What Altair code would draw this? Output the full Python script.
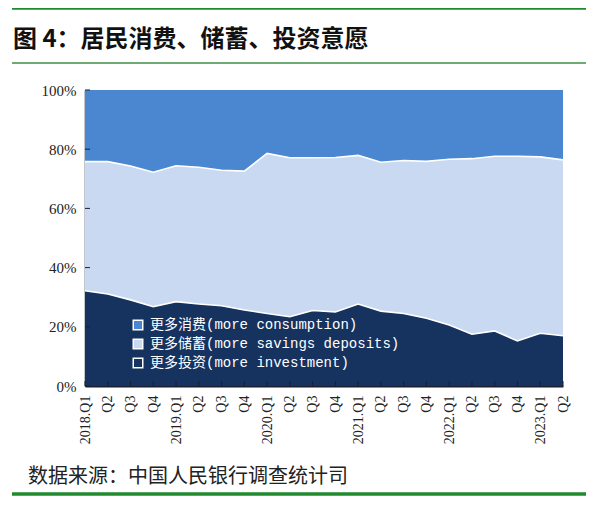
import altair as alt
import pandas as pd

# ---- data ----
quarters = ["2018Q1", "2018Q2", "2018Q3", "2018Q4",
            "2019Q1", "2019Q2", "2019Q3", "2019Q4",
            "2020Q1", "2020Q2", "2020Q3", "2020Q4",
            "2021Q1", "2021Q2", "2021Q3", "2021Q4",
            "2022Q1", "2022Q2", "2022Q3", "2022Q4",
            "2023Q1", "2023Q2"]

investment = [32.2, 31.1, 29.1, 26.8, 28.5, 27.7, 27.1, 25.7, 24.5, 23.4, 25.5,
              25.0, 27.7, 25.3, 24.5, 22.9, 20.6, 17.5, 18.6, 15.2, 17.8, 17.0]
savings = [43.6, 44.7, 45.2, 45.4, 45.9, 46.2, 45.8, 46.9, 54.1, 53.7, 51.6,
           52.2, 50.2, 50.3, 51.7, 53.0, 56.0, 59.3, 59.0, 62.4, 59.6, 59.4]
consumption = [24.2, 24.2, 25.7, 27.8, 25.6, 26.1, 27.1, 27.4, 21.4, 22.9, 22.9,
               22.8, 22.1, 24.4, 23.8, 24.1, 23.4, 23.2, 22.4, 22.4, 22.6, 23.6]

name_cons = "更多消费(more consumption)"
name_sav = "更多储蓄(more savings deposits)"
name_inv = "更多投资(more investment)"
legend_order = [name_cons, name_sav, name_inv]
colors = ["#4B86D0", "#C9D9F1", "#16325F"]

y_ticks = [0, 20, 40, 60, 80, 100]

title_text = "图 4：居民消费、储蓄、投资意愿"
source_text = "数据来源：中国人民银行调查统计司"

# ---- build long table ----
rows = []
for i, q in enumerate(quarters):
    rows.append({"q": q, "s": name_inv, "v": investment[i], "rank": 0})
    rows.append({"q": q, "s": name_sav, "v": savings[i], "rank": 1})
    rows.append({"q": q, "s": name_cons, "v": consumption[i], "rank": 2})
df = pd.DataFrame(rows)

W, H = 478, 296

x_enc = alt.X(
    "q:N", sort=quarters,
    scale=alt.Scale(type="point", padding=0),
    axis=alt.Axis(
        title=None, labelAngle=-90, ticks=False, labelPadding=9,
        labelFont="Liberation Serif", labelFontSize=14, labelColor="#222",
        domainColor="#1a1f33", domainWidth=2,
        labelExpr="indexof(datum.value, 'Q1') >= 0 ? replace(datum.value, 'Q', '.Q') : substring(datum.value, 4)",
    ),
)

y_scale = alt.Scale(domain=[0, 100], nice=False)
y_axis = alt.Axis(
    title=None, values=y_ticks, labelExpr="datum.value + '%'",
    tickSize=0, labelPadding=9, grid=False,
    labelFont="Liberation Serif", labelFontSize=15, labelColor="#222",
    domainColor="#1a1f33", domainWidth=1.5,
)

base = alt.Chart(df).transform_stack(
    stack="v", groupby=["q"], as_=["y0", "y1"],
    sort=[alt.SortField("rank", order="ascending")],
)

area = base.mark_area(opacity=1, interpolate="linear").encode(
    x=x_enc,
    y=alt.Y("y1:Q", scale=y_scale, axis=y_axis),
    y2="y0:Q",
    color=alt.Color(
        "s:N",
        scale=alt.Scale(domain=legend_order, range=colors),
        legend=alt.Legend(
            title=None, orient="none", legendX=46, legendY=228,
            symbolType="square", symbolSize=90, symbolStrokeColor="white",
            symbolStrokeWidth=1.5, symbolOpacity=1,
            labelFont="'Liberation Mono', 'Noto Sans CJK SC'",
            labelFontSize=14, labelColor="white", labelOffset=5,
            rowPadding=3, labelLimit=400,
        ),
    ),
)

lines = base.transform_filter("datum.rank < 2").mark_line(
    color="white", strokeWidth=1.6
).encode(
    x=alt.X("q:N", sort=quarters),
    y="y1:Q",
    detail="s:N",
)

xt = alt.Chart(pd.DataFrame({"q": quarters})).mark_rule(
    color="#1a1f33", strokeWidth=1
).encode(x=alt.X("q:N", sort=quarters), y=alt.value(H - 5), y2=alt.value(H))

yt = alt.Chart(pd.DataFrame({"y1": y_ticks})).mark_rule(
    color="#1a1f33", strokeWidth=1
).encode(y="y1:Q", x=alt.value(0), x2=alt.value(5))

# ---- decorations (report frame) ----
green = "#1F8A2E"
top_rule = alt.Chart(pd.DataFrame({"a": [0]})).mark_rule(color=green, strokeWidth=3.5).encode(
    x=alt.value(-73), x2=alt.value(501), y=alt.value(-82))
mid_rule = alt.Chart(pd.DataFrame({"a": [0]})).mark_rule(color="#3E8F45", strokeWidth=1.5).encode(
    x=alt.value(-73), x2=alt.value(501), y=alt.value(-27))
bot_rule = alt.Chart(pd.DataFrame({"a": [0]})).mark_rule(color=green, strokeWidth=3.5).encode(
    x=alt.value(-73), x2=alt.value(501), y=alt.value(404))

title = alt.Chart(pd.DataFrame({"t": [title_text]})).mark_text(
    align="left", baseline="middle", font="Noto Sans CJK SC", fontSize=24,
    fontWeight="bold", color="#111"
).encode(text="t:N", x=alt.value(-72), y=alt.value(-50))

source = alt.Chart(pd.DataFrame({"t": [source_text]})).mark_text(
    align="left", baseline="middle", font="Noto Sans CJK SC", fontSize=20,
    color="#222"
).encode(text="t:N", x=alt.value(-57), y=alt.value(387))

chart = alt.layer(
    area, lines, xt, yt, top_rule, mid_rule, bot_rule, title, source
).properties(
    width=W, height=H,
    autosize=alt.AutoSizeParams(type="none"),
    padding={"left": 77, "top": 82, "right": 25, "bottom": 112},
    background="white",
).configure_view(stroke=None)

chart.save("out.html", embed_options={"renderer": "svg", "actions": False})
